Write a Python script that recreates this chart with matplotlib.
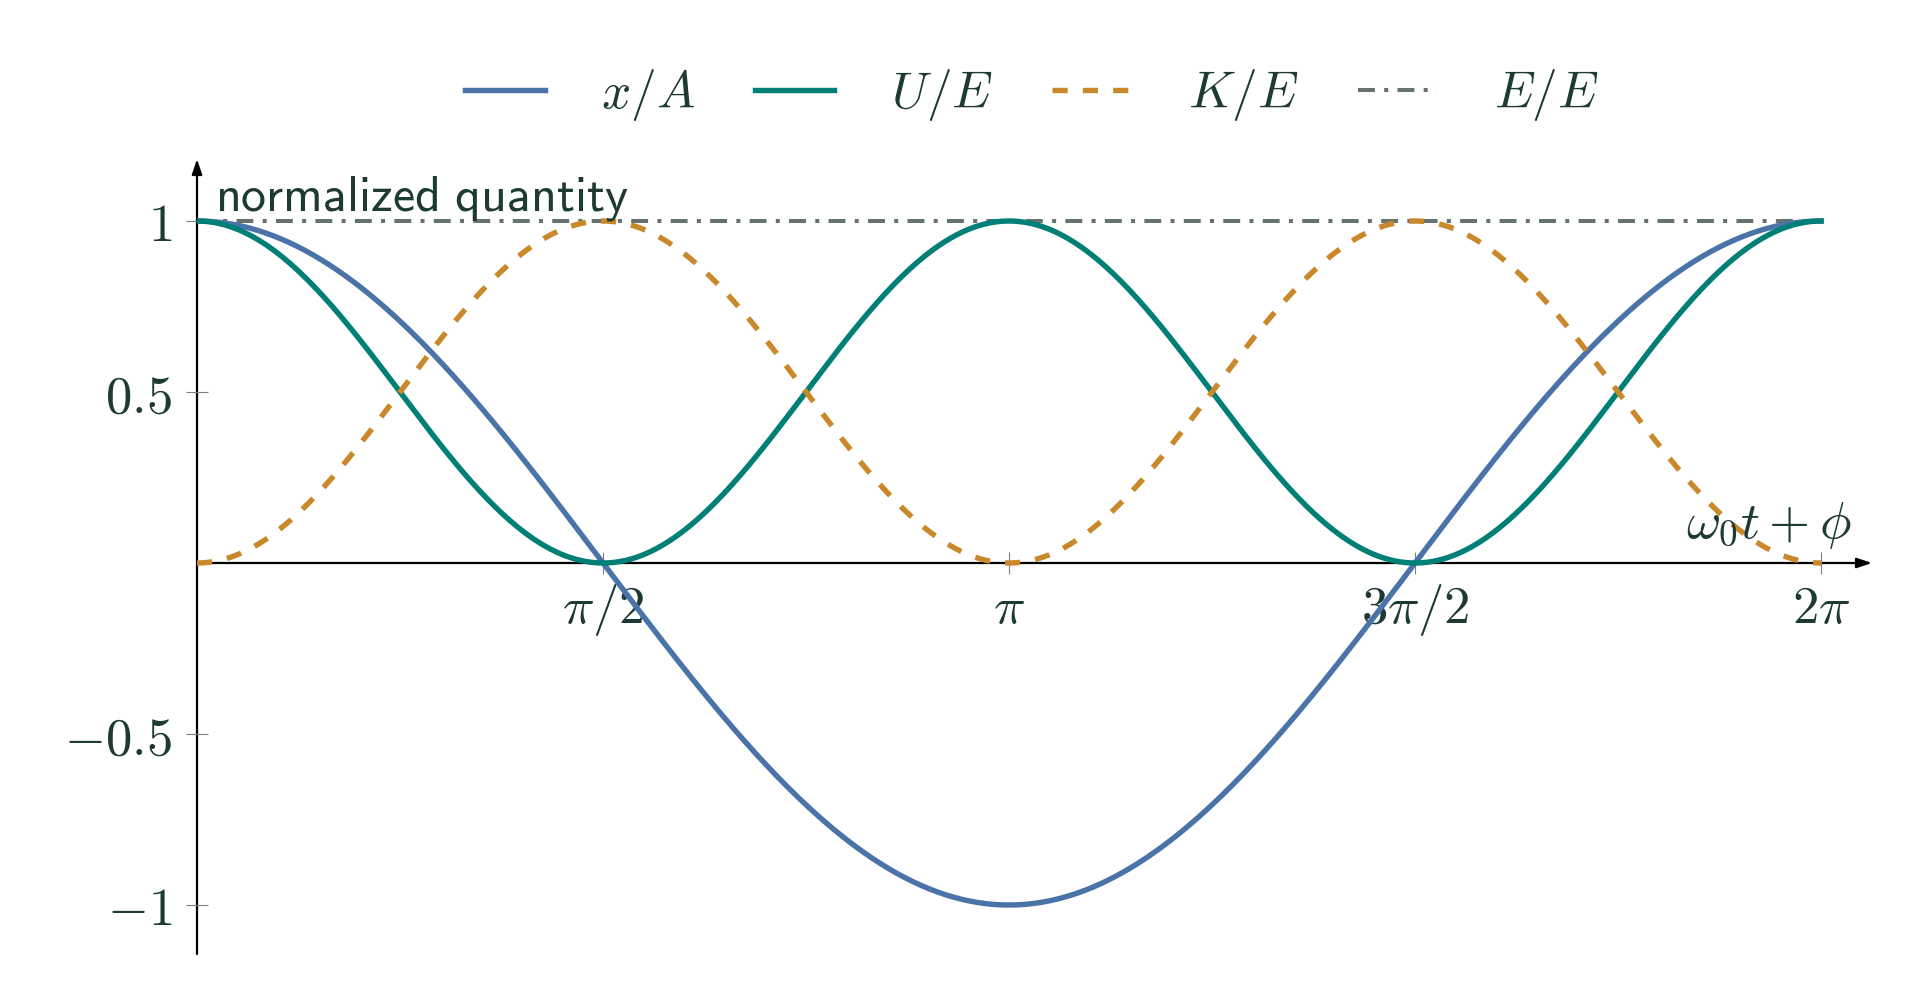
import numpy as np
import matplotlib
matplotlib.use("Agg")
import matplotlib.pyplot as plt

plt.rcParams['mathtext.fontset'] = 'cm'
plt.rcParams['font.family'] = ['DejaVu Sans']

TEXT = '#1e3a34'
TICK = '#808080'

# phase axis
x_ticks = [np.pi / 2, np.pi, 3 * np.pi / 2, 2 * np.pi]
x_ticklabels = [r'$\pi/2$', r'$\pi$', r'$3\pi/2$', r'$2\pi$']
y_ticks = [-1, -0.5, 0.5, 1]
y_ticklabels = [r'$-1$', r'$-0.5$', r'$0.5$', r'$1$']

series_names = [r'$x/A$', r'$U/E$', r'$K/E$', r'$E/E$']
series_colors = ['#4a74a8', '#007f76', '#c9892b', '#667370']

phase = np.linspace(0, 2 * np.pi, 600)
x_over_A = np.cos(phase)
U_over_E = np.cos(phase) ** 2
K_over_E = np.sin(phase) ** 2
E_over_E = np.ones_like(phase)

fig = plt.figure(figsize=(19.23, 10.07), dpi=100)
ax = fig.add_axes([197 / 1923, 1 - 954 / 1007, (1872 - 197) / 1923, (954 - 159) / 1007])
ax.set_xlim(0, 2 * np.pi * 1675 / 1624)
ax.set_ylim(-391 / 342, 404 / 342)

lw = 3.9
l_gray, = ax.plot(phase, E_over_E, color=series_colors[3], lw=2.9,
                  dashes=(4.2, 2.3, 1.0, 2.3), zorder=2.0, label=series_names[3])
l_blue, = ax.plot(phase, x_over_A, color=series_colors[0], lw=lw, zorder=2.1,
                  label=series_names[0])
l_teal, = ax.plot(phase, U_over_E, color=series_colors[1], lw=lw, zorder=2.2,
                  label=series_names[1])
l_orange, = ax.plot(phase, K_over_E, color=series_colors[2], lw=lw,
                    dashes=(2.8, 2.8), zorder=2.3, label=series_names[2])
for l in (l_gray, l_blue, l_teal, l_orange):
    l.set_dash_capstyle('butt')

# axes with arrows
for s in ax.spines.values():
    s.set_visible(False)
ax.spines['left'].set_position(('data', 0))
ax.spines['bottom'].set_position(('data', 0))
xmin, xmax = ax.get_xlim()
ymin, ymax = ax.get_ylim()
arrow = dict(arrowstyle='-|>,head_length=0.9,head_width=0.3', color='black', lw=1.6,
             shrinkA=0, shrinkB=0)
ax.annotate('', xy=(xmax, 0), xytext=(0, 0), arrowprops=arrow, zorder=1)
ax.annotate('', xy=(0, ymax), xytext=(0, ymin), arrowprops=arrow, zorder=1)

ax.set_xticks(x_ticks)
ax.set_xticklabels(x_ticklabels)
ax.set_yticks(y_ticks)
ax.set_yticklabels(y_ticklabels)
ax.tick_params(direction='inout', length=16, width=0.8, color=TICK,
               labelsize=38, labelcolor=TEXT)
ax.tick_params(axis='x', pad=6)
ax.tick_params(axis='y', pad=10)

ax.text(6.40, 0.035, r'$\omega_0 t + \phi$', fontsize=38, color=TEXT,
        ha='right', va='bottom')
ax.text(0.07, 1.03, r'$\mathsf{normalized\ quantity}$', fontsize=36, color=TEXT,
        ha='left', va='baseline')

fig.legend(handles=[l_blue, l_teal, l_orange, l_gray], labels=series_names,
           loc='center', bbox_to_anchor=(1032 / 1923, 1 - 95 / 1007), ncol=4,
           frameon=False, fontsize=37, handlelength=1.55, handletextpad=1.1,
           columnspacing=1.15, labelcolor=TEXT)

fig.savefig('out.png', dpi=100)
